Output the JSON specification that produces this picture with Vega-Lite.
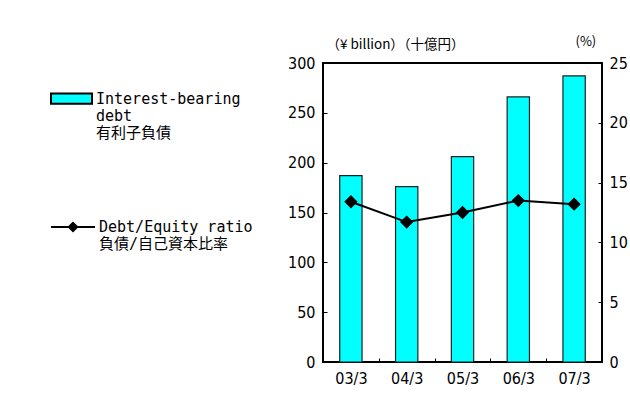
{
  "$schema": "https://vega.github.io/schema/vega-lite/v6.json",
  "width": 279,
  "height": 299,
  "autosize": "none",
  "padding": {"left": 323, "top": 63, "right": 28, "bottom": 52},
  "background": "#ffffff",
  "data": {"values": [
    {"period": "03/3", "debt": 187, "ratio": 13.4},
    {"period": "04/3", "debt": 176, "ratio": 11.7},
    {"period": "05/3", "debt": 206, "ratio": 12.5},
    {"period": "06/3", "debt": 266, "ratio": 13.5},
    {"period": "07/3", "debt": 287, "ratio": 13.2}
  ]},
  "encoding": {
    "x": {
      "field": "period", "type": "ordinal", "sort": null,
      "scale": {"paddingInner": 0, "paddingOuter": 0},
      "axis": {"title": null, "labelAngle": 0, "domain": false, "tickBand": "extent", "tickSize": -4, "tickColor": "#000", "labelPadding": 12, "labelFont": "Liberation Sans Narrow, DejaVu Sans Condensed, sans-serif", "labelFontSize": 16, "labelColor": "#000"}
    }
  },
  "layer": [
    {
      "mark": {"type": "bar", "width": {"band": 0.4}, "stroke": "#222", "strokeWidth": 1.2},
      "encoding": {
        "y": {"field": "debt", "type": "quantitative", "scale": {"domain": [0, 300], "nice": false},
          "axis": {"values": [0, 50, 100, 150, 200, 250, 300], "grid": false, "domain": false, "tickSize": -4, "tickColor": "#000", "labelPadding": 12, "labelFont": "Liberation Sans Narrow, DejaVu Sans Condensed, sans-serif", "labelFontSize": 16, "labelColor": "#000",
            "title": "（¥ billion）（十億円）", "titleAngle": 0, "titleAlign": "left", "titleBaseline": "middle", "titleX": 3, "titleY": -19, "titleFont": "Noto Sans CJK JP", "titleFontSize": 13.5, "titleFontWeight": "normal", "titleColor": "#000"}},
        "fill": {"datum": "Interest-bearing debt", "type": "nominal", "scale": {"range": ["#00FFFF"]},
          "legend": {"orient": "none", "legendX": -273, "legendY": 14, "title": null, "symbolType": "M-1,-0.25H1V0.25H-1Z", "symbolSize": 1681, "symbolStrokeColor": "#000", "symbolStrokeWidth": 2, "labelFont": "DejaVu Sans Mono, Noto Sans CJK JP", "labelFontSize": 15, "labelColor": "#000", "labelLimit": 300, "labelOffset": 3, "labelBaseline": "middle", "labelExpr": "['Interest-bearing', 'debt', '有利子負債']"}}
      }
    },
    {
      "mark": {"type": "line", "strokeWidth": 2, "point": {"shape": "diamond", "size": 110, "filled": true, "fill": "#000"}},
      "encoding": {
        "y": {"field": "ratio", "type": "quantitative", "scale": {"domain": [0, 25], "nice": false},
          "axis": {"orient": "right", "values": [0, 5, 10, 15, 20, 25], "grid": false, "domain": false, "tickSize": -4, "tickColor": "#000", "labelPadding": 11, "labelFont": "Liberation Sans Narrow, DejaVu Sans Condensed, sans-serif", "labelFontSize": 16, "labelColor": "#000",
            "title": "(%)", "titleAngle": 0, "titleAlign": "left", "titleBaseline": "middle", "titleX": -27, "titleY": -22, "titleFont": "Liberation Sans Narrow, Noto Sans CJK JP", "titleFontSize": 13, "titleFontWeight": "normal", "titleColor": "#000"}},
        "stroke": {"datum": "Debt/Equity ratio", "type": "nominal", "scale": {"range": ["#000000"]},
          "legend": {"orient": "none", "legendX": -273, "legendY": 141, "title": null, "symbolType": "M-1,0H1M-0.19,0L0,-0.19L0.19,0L0,0.19Z", "symbolSize": 1936, "symbolStrokeColor": "#000", "symbolFillColor": "#000", "symbolStrokeWidth": 2, "labelFont": "DejaVu Sans Mono, Noto Sans CJK JP", "labelFontSize": 15, "labelColor": "#000", "labelLimit": 300, "labelOffset": 3, "labelBaseline": "middle", "labelExpr": "['Debt/Equity ratio', '負債/自己資本比率']"}}
      }
    }
  ],
  "resolve": {"scale": {"y": "independent"}},
  "config": {"view": {"stroke": "#000", "strokeWidth": 2}}
}
